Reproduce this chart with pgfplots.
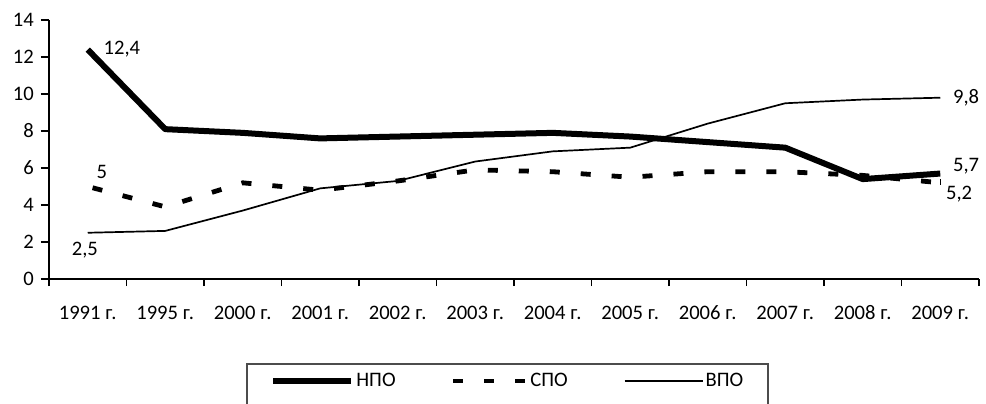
\documentclass[border=0pt]{standalone}
\usepackage{fontspec}
\setmainfont{Carlito}
\usepackage{pgfplots}
\pgfplotsset{compat=1.18}
\begin{document}
\fontsize{10.3}{12}\selectfont
\begin{tikzpicture}[font=\fontsize{10.3}{12}\selectfont]
\begin{axis}[
  scale only axis,
  width=465pt, height=129.5pt,
  xmin=-0.5, xmax=11.5,
  ymin=0, ymax=14,
  axis lines*=left,
  axis line style={line width=0.9pt},
  xtick={0,...,11},
  xticklabels={1991 г.,1995 г.,2000 г.,2001 г.,2002 г.,2003 г.,2004 г.,2005 г.,2006 г.,2007 г.,2008 г.,2009 г.},
  major x tick style={draw=none},
  minor xtick={-0.5,0.5,...,11.5},
  minor tick length=3.5pt,
  ytick={0,2,...,14},
  major tick length=4pt,
  tick align=outside,
  tick style={line width=0.9pt, black},
  x tick label style={yshift=-6pt, text height=6.6pt, text depth=0pt},
  /pgf/number format/assume math mode=true,
  ticklabel style={font=\fontsize{10.3}{12}\selectfont},
  legend columns=3,
  legend style={draw=none, fill=none, inner sep=0pt,
    at={(rel axis cs:0.2376,-0.394)}, anchor=west,
    nodes={inner xsep=1pt, inner ysep=1pt},
    /tikz/column 2/.style={column sep=24pt},
    /tikz/column 4/.style={column sep=27pt},
    font=\fontsize{10.3}{12}\selectfont},
  legend image code/.code={\draw[#1] (0pt,0pt) -- (39pt,0pt);},
]
\addplot[black, line width=3pt, line join=round] coordinates {
(0,12.4) (1,8.1) (2,7.9) (3,7.6) (4,7.7) (5,7.8) (6,7.9) (7,7.7) (8,7.4) (9,7.1) (10,5.4) (11,5.7)};
\addlegendentry{НПО}
\addplot[black, line width=2.4pt, dash pattern=on 5pt off 10.5pt, dash phase=13pt] coordinates {
(0,5.0) (1,3.9) (2,5.2) (3,4.8) (4,5.3) (5,5.9) (6,5.8) (7,5.5) (8,5.8) (9,5.8) (10,5.6) (11,5.2)};
\addlegendentry{СПО}
\addplot[black, line width=0.85pt] coordinates {
(0,2.5) (1,2.6) (2,3.7) (3,4.9) (4,5.3) (5,6.35) (6,6.9) (7,7.1) (8,8.4) (9,9.5) (10,9.7) (11,9.8)};
\addlegendentry{ВПО}
\node[anchor=west, inner sep=0pt] at (axis cs:0.2,12.4) {12,4};
\node[anchor=west, inner sep=0pt] at (axis cs:0.11,5.76) {5};
\node[anchor=west, inner sep=0pt] at (axis cs:-0.21,1.57) {2,5};
\node[anchor=west, inner sep=0pt] at (axis cs:11.16,9.8) {9,8};
\node[anchor=west, inner sep=0pt] at (axis cs:11.16,6.1) {5,7};
\node[anchor=west, inner sep=0pt] at (axis cs:11.07,4.6) {5,2};
\draw[black, line width=0.5pt] (axis cs:11,5.4) -- (axis cs:11,5.08);
\end{axis}
\draw[black!70, line width=0.9pt] (99pt,-75pt) -- (99pt,-42.5pt) -- (359.5pt,-42.5pt) -- (359.5pt,-75pt);
\pgfresetboundingbox
\useasboundingbox (-24.5pt,-62pt) rectangle (468.5pt,139.5pt);
\end{tikzpicture}
\end{document}
